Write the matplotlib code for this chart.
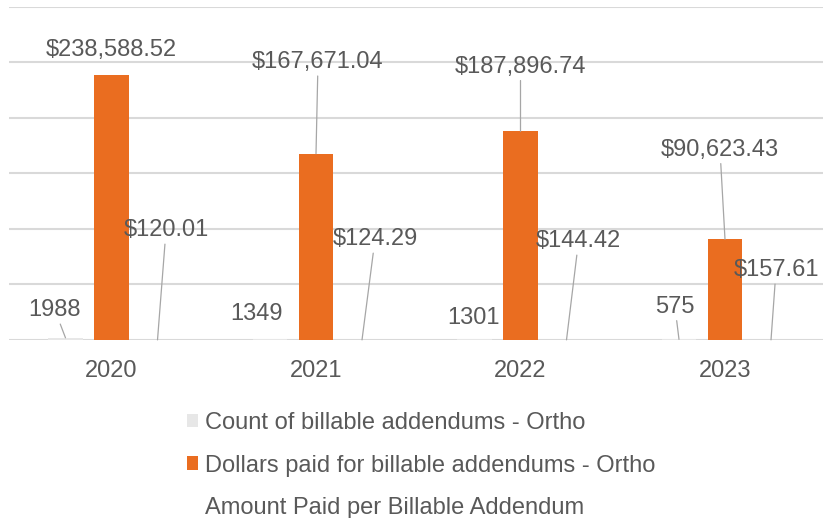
import numpy as np
import matplotlib.pyplot as plt
from matplotlib.patches import Patch

plt.rcParams['font.family'] = ['Liberation Sans', 'DejaVu Sans']

years = ['2020', '2021', '2022', '2023']
count_addendums = [1988, 1349, 1301, 575]
dollars_paid = [238588.52, 167671.04, 187896.74, 90623.43]
paid_per_addendum = [120.01, 124.29, 144.42, 157.61]

names = ['Count of billable addendums - Ortho',
         'Dollars paid for billable addendums - Ortho',
         'Amount Paid per Billable Addendum']

text_col = '#595959'
grid_col = '#D9D9D9'
lead_col = '#A6A6A6'
gray_col = '#E7E7E7'
orange_col = '#EA6D20'

fig = plt.figure(figsize=(8.23, 5.18), dpi=100)
ax = fig.add_axes([9.25 / 823, 178 / 518, 818 / 823, 333.3 / 518])

x = np.arange(len(years))
w = 0.171
step = 0.225

ax.bar(x - step, count_addendums, w, color=gray_col, zorder=2)
ax.bar(x, dollars_paid, w, color=orange_col, zorder=2)
ax.bar(x + step, paid_per_addendum, w, color='none', zorder=2)

ax.set_xlim(-0.5, 3.5)
ax.set_ylim(0, 300000)
ax.set_yticks(np.arange(0, 300001, 50000))
ax.yaxis.grid(True, color=grid_col, linewidth=1.5, zorder=0)
ax.set_yticklabels([])
ax.tick_params(axis='y', length=0)
ax.set_xticks(x)
ax.set_xticklabels(years, fontsize=17, color=text_col)
ax.tick_params(axis='x', length=0, pad=14.5)
for s in ax.spines.values():
    s.set_visible(False)

# data labels: (offset in pixels, draw leader line)
count_off = [((-10.5, 27.5), True), ((-13, 24.5), False), ((-1, 20.5), False), ((-4, 32.5), True)]
dollar_off = [((0, 24.5), False), ((2, 91.5), True), ((0, 64.5), True), ((-5, 89.5), True)]
per_off = [((8.5, 109.5), True), ((13, 100.5), True), ((12, 98.5), True), ((5, 69.5), True)]


def label(xpos, val, txt, off, line):
    kw = dict(xy=(xpos, val), xytext=off, textcoords='offset pixels',
              ha='center', va='center', fontsize=17, color=text_col, zorder=3)
    if line:
        kw['arrowprops'] = dict(arrowstyle='-', color=lead_col, lw=0.9,
                                shrinkA=0, shrinkB=0)
    ax.annotate(txt, **kw)


for i in range(len(years)):
    o, l = count_off[i]
    label(x[i] - step, count_addendums[i], f'{count_addendums[i]}', o, l)
    o, l = dollar_off[i]
    label(x[i], dollars_paid[i], f'${dollars_paid[i]:,.2f}', o, l)
    o, l = per_off[i]
    label(x[i] + step, paid_per_addendum[i], f'${paid_per_addendum[i]:,.2f}', o, l)

handles = [Patch(facecolor=gray_col, edgecolor='none'),
           Patch(facecolor=orange_col, edgecolor='none'),
           Patch(facecolor='none', edgecolor='none')]
fig.legend(handles, names, loc='upper left', bbox_to_anchor=(187 / 823, 1 - 412 / 518),
           frameon=False, fontsize=17, labelcolor=text_col, borderpad=0,
           borderaxespad=0, handlelength=0.45, handleheight=0.5,
           handletextpad=0.3, labelspacing=0.87)

fig.savefig('out.png', dpi=100)
